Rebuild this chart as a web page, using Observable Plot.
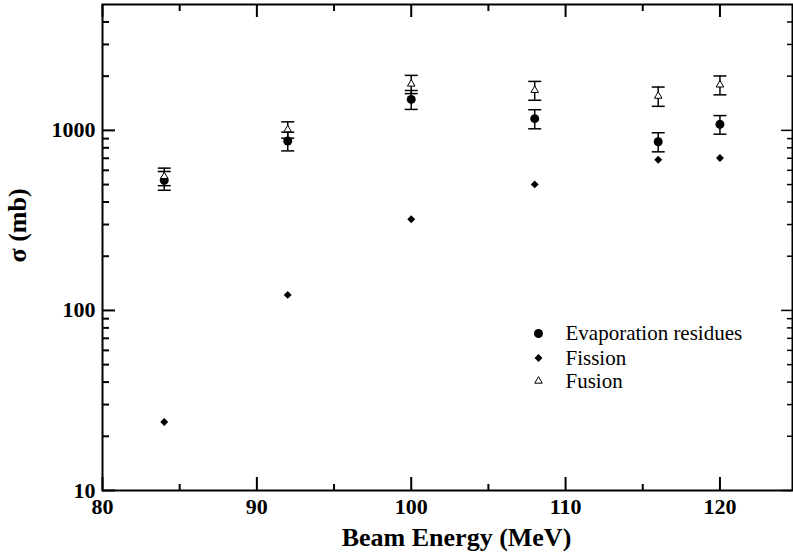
<!DOCTYPE html>
<html><head><meta charset="utf-8">
<script src="https://cdn.jsdelivr.net/npm/d3@7"></script>
<script src="https://cdn.jsdelivr.net/npm/@observablehq/plot@0.6"></script>
<style>body{margin:0;background:#fff}</style>
</head><body><div id="chart"></div>
<script>
const energies = [84, 92, 100, 108, 116, 120];
const evaporationResidues = [528, 873, 1486, 1161, 865, 1080];
const evaporationErrors = [63, 104, 179, 141, 105, 128];
const fission = [24, 122, 321, 501, 687, 702];
const fusion = [555, 1010, 1810, 1670, 1550, 1790];
const fusionErrors = [62, 105, 210, 200, 190, 215];

const xTicks = [80, 90, 100, 110, 120];
const xMinorTicks = [85, 95, 105, 115];
const yTicks = [10, 100, 1000];
const yMinorTicks = [20, 30, 40, 50, 60, 70, 80, 90, 200, 300, 400, 500, 600, 700, 800, 900, 2000, 3000, 4000];
const legendLabels = ["Evaporation residues", "Fission", "Fusion"];
const xLabel = "Beam Energy (MeV)";
const yLabel = "σ (mb)";

const FONT = '"Liberation Serif", serif';
const W = 793, H = 554, mL = 102, mR = 1, mT = 4, mB = 64;
const plotW = W - mL - mR, plotH = H - mT - mB;

const erRows = energies.map((x, i) => ({x, y: evaporationResidues[i], e: evaporationErrors[i]}));
const fiRows = energies.map((x, i) => ({x, y: fission[i]}));
const fuRows = energies.map((x, i) => ({x, y: fusion[i], e: fusionErrors[i]}));

const capSymbol = {draw(ctx, size) { const r = Math.sqrt(size / Math.PI); ctx.moveTo(-r, 0); ctx.lineTo(r, 0); }};
const diamondSymbol = {draw(ctx, size) { const r = Math.sqrt(size / Math.PI) * 1.1; ctx.moveTo(0, -r); ctx.lineTo(r, 0); ctx.lineTo(0, r); ctx.lineTo(-r, 0); ctx.closePath(); }};

function errorBars(rows) {
  return [
    Plot.ruleX(rows, {x: "x", y1: d => d.y - d.e, y2: d => d.y + d.e, stroke: "black", strokeWidth: 1.5}),
    Plot.dot(rows, {x: "x", y: d => d.y + d.e, symbol: capSymbol, r: 6.5, fill: "none", stroke: "black", strokeWidth: 1.5}),
    Plot.dot(rows, {x: "x", y: d => d.y - d.e, symbol: capSymbol, r: 6.5, fill: "none", stroke: "black", strokeWidth: 1.5})
  ];
}

const legendDy = [329, 353.5, 376.5];
const legendMarks = [
  Plot.dot([legendLabels[0]], {frameAnchor: "top-left", dx: 436, dy: legendDy[0], r: 4.5, symbol: "circle", fill: "black", stroke: "none"}),
  Plot.dot([legendLabels[1]], {frameAnchor: "top-left", dx: 436, dy: legendDy[1], r: 3.6, symbol: diamondSymbol, fill: "black", stroke: "none"}),
  Plot.dot([legendLabels[2]], {frameAnchor: "top-left", dx: 436, dy: legendDy[2], r: 2.8, symbol: "triangle", fill: "white", stroke: "black", strokeWidth: 1}),
  ...legendLabels.map((t, i) => Plot.text([t], {frameAnchor: "top-left", dx: 463, dy: legendDy[i], text: d => d, textAnchor: "start", lineAnchor: "middle", fontSize: 21, fontWeight: "normal", fontFamily: FONT}))
];

const chart = Plot.plot({
  width: W, height: H,
  marginLeft: mL, marginRight: mR, marginTop: mT, marginBottom: mB,
  style: {fontSize: "22px", color: "black", background: "white"},
  x: {domain: [80, 124.7]},
  y: {type: "log", domain: [10, 5000]},
  marks: [
    Plot.tickY(yTicks, {y: d => d, insetRight: plotW - 13, stroke: "black", strokeWidth: 2}),
    Plot.tickY(yMinorTicks, {y: d => d, insetRight: plotW - 7, stroke: "black", strokeWidth: 2}),
    Plot.tickY(yTicks, {y: d => d, insetLeft: plotW - 11, stroke: "black", strokeWidth: 1.5}),
    Plot.tickY(yMinorTicks, {y: d => d, insetLeft: plotW - 5, stroke: "black", strokeWidth: 1.5}),
    Plot.tickX(xTicks, {x: d => d, insetTop: plotH - 13, stroke: "black", strokeWidth: 2}),
    Plot.tickX(xMinorTicks, {x: d => d, insetTop: plotH - 6, stroke: "black", strokeWidth: 2}),
    Plot.tickX(xTicks, {x: d => d, insetBottom: plotH - 13, stroke: "black", strokeWidth: 2}),
    Plot.tickX(xMinorTicks, {x: d => d, insetBottom: plotH - 7, stroke: "black", strokeWidth: 2}),
    Plot.frame({stroke: "black", strokeWidth: 2}),
    Plot.axisY({ticks: yTicks, tickSize: 0, tickPadding: 7, tickFormat: d => String(d), label: null, fontSize: 22, fontWeight: "bold", fontFamily: FONT}),
    Plot.axisX({ticks: xTicks, tickSize: 0, tickPadding: 8, tickFormat: d => String(d), label: null, fontSize: 22, fontWeight: "bold", fontFamily: FONT}),
    Plot.text([xLabel], {frameAnchor: "bottom", text: d => d, dx: 9, dy: 47, lineAnchor: "middle", fontSize: 26, fontWeight: "bold", fontFamily: FONT}),
    Plot.text([yLabel], {frameAnchor: "left", text: d => d, rotate: -90, dx: -85, dy: 15, lineAnchor: "middle", fontSize: 26, fontWeight: "bold", fontFamily: FONT}),
    ...errorBars(fuRows),
    ...errorBars(erRows),
    Plot.dot(erRows, {x: "x", y: "y", r: 4.5, symbol: "circle", fill: "black", stroke: "none"}),
    Plot.dot(fiRows, {x: "x", y: "y", r: 3.6, symbol: diamondSymbol, fill: "black", stroke: "none"}),
    Plot.dot(fuRows, {x: "x", y: "y", r: 2.8, symbol: "triangle", fill: "white", stroke: "black", strokeWidth: 1}),
    ...legendMarks
  ]
});
document.getElementById("chart").appendChild(chart);
</script>
</body></html>
